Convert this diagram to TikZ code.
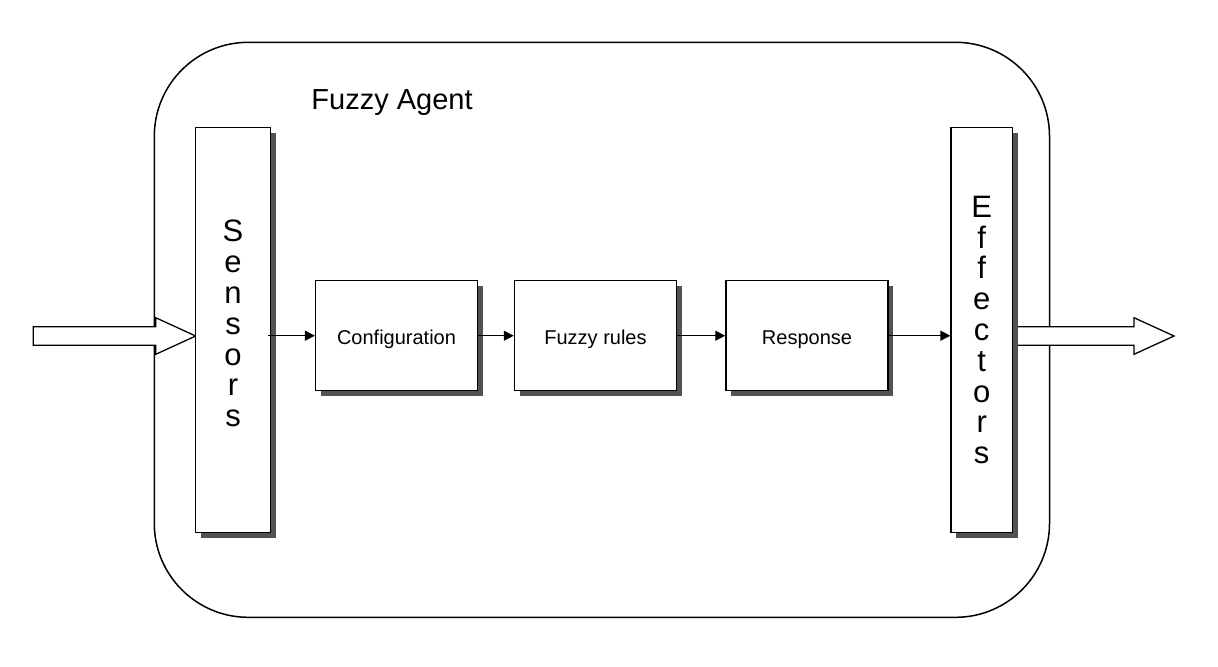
\documentclass[tikz,border=0pt]{standalone}
\usepackage{fontspec}
\setmainfont{Liberation Sans}
\usetikzlibrary{shadows,arrows.meta,calc}
\tikzset{
  blockbox/.style={draw=black, line width=0.75pt, fill=white, inner sep=0pt,
    drop shadow={shadow xshift=2.6pt, shadow yshift=-2.6pt, fill=black!68, opacity=1}},
  procbox/.style={blockbox, minimum width=81pt, minimum height=55pt, font=\fontsize{10}{12}\selectfont},
  sidebox/.style={blockbox, minimum height=202.3pt, align=center, font=\fontsize{15.5}{15.4}\selectfont},
  flow/.style={draw=black, line width=0.65pt, -{Triangle[length=5pt,width=5pt]}},
  fatarrow/.style={draw=black, line width=0.65pt, fill=white, line join=miter},
  outerbox/.style={draw=black, line width=0.75pt, rounded corners=47pt}
}
\newcommand\blockarrow[2]{%
  \path[fatarrow] let \p1=(#1), \p2=(#2) in
    (\x1,\y1+4.65pt) -- (\x2-20pt,\y1+4.65pt) -- (\x2-20pt,\y1+9.15pt) -- (\x2,\y1)
    -- (\x2-20pt,\y1-9.15pt) -- (\x2-20pt,\y1-4.65pt) -- (\x1,\y1-4.65pt) -- cycle;}
\newcommand\lowtext[1]{\raisebox{-2pt}[\height][\depth]{#1}}
\begin{document}
\begin{tikzpicture}[x=0.5pt,y=-0.5pt]
\useasboundingbox (0,0) rectangle (1218,666);
\draw[outerbox] (154.3,42.3) rectangle (1049.5,617.3);
\node[anchor=base, font=\fontsize{14.5}{16}\selectfont] (title) at (392,109) {Fuzzy Agent};
% node positions
\coordinate (inTail) at (33.3,336);
\coordinate (outTip) at (1174,336);
\coordinate (sensW) at (195.7,336);
\coordinate (effE) at (1012,336);
% block arrows
\blockarrow{inTail}{sensW}
\blockarrow{effE}{outTip}
% boxes
\node[sidebox, minimum width=37.3pt] (sens) at (233,330) {\raisebox{1pt}[\height][\depth]{\begin{tabular}{@{}c@{}}S\\e\\n\\s\\o\\r\\s\end{tabular}}};
\node[sidebox, minimum width=30.6pt] (eff) at (981.7,330) {E\\f\\f\\e\\c\\t\\o\\r\\s};
\node[procbox, minimum width=80.8pt] (conf) at (396.5,335.7) {\lowtext{Configuration}};
\node[procbox] (rules) at (595.5,335.7) {\lowtext{Fuzzy rules}};
\node[procbox] (resp) at (807,335.7) {\lowtext{Response}};
% connectors
\draw[flow] ([xshift=-1.3pt]sens.east |- conf.west) -- (conf.west);
\draw[flow] (conf.east) -- (rules.west);
\draw[flow] (rules.east) -- (resp.west);
\draw[flow] (resp.east) -- (resp.east -| eff.west);
\end{tikzpicture}
\end{document}
